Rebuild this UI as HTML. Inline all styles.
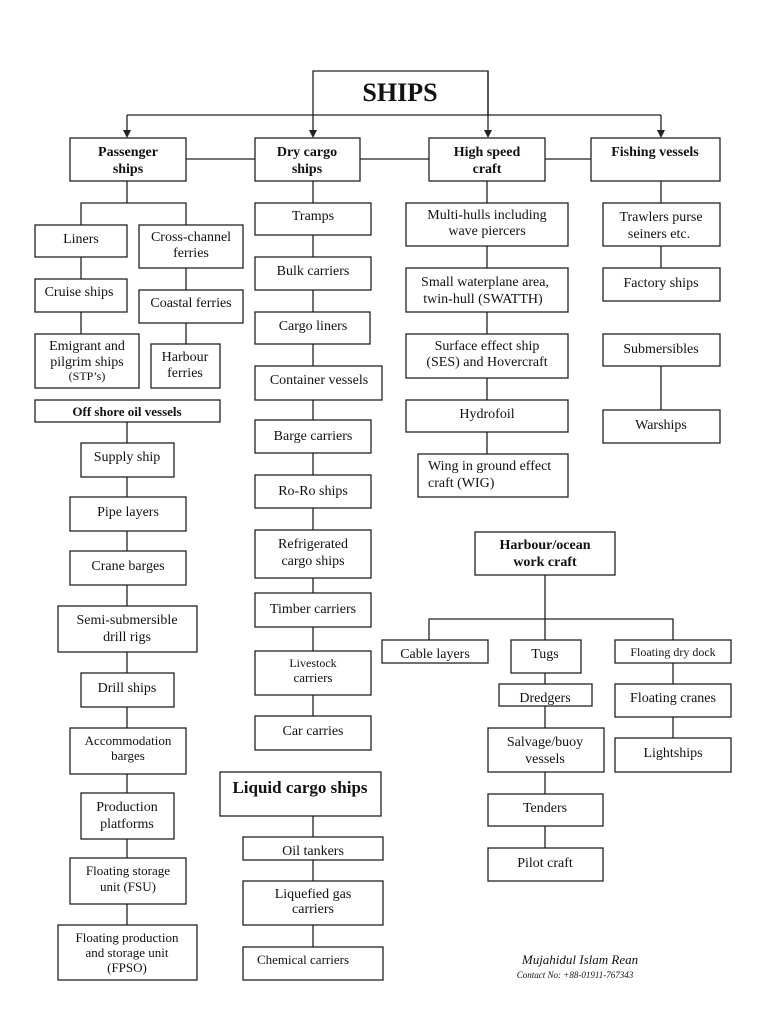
<!DOCTYPE html>
<html><head><meta charset="utf-8"><style>
html,body{margin:0;padding:0;background:#fff;}
svg{display:block;}
text{font-family:"Liberation Serif",serif;fill:#111;text-anchor:middle;}
.b{font-weight:bold;}
rect{fill:#fff;stroke:#222;stroke-width:1.3;}
line,polyline{stroke:#222;stroke-width:1.3;fill:none;}
</style></head><body>
<svg width="768" height="1024" viewBox="0 0 768 1024" xmlns="http://www.w3.org/2000/svg">
<!-- top connectors -->
<polyline points="313,115 313,71 488,71 488,115"/>
<line x1="127" y1="115" x2="661" y2="115"/>
<line x1="127" y1="115" x2="127" y2="132"/>
<line x1="313" y1="115" x2="313" y2="132"/>
<line x1="488" y1="71" x2="488" y2="132"/>
<line x1="661" y1="115" x2="661" y2="132"/>
<path d="M123,130 L131,130 L127,138 z M309,130 L317,130 L313,138 z M484,130 L492,130 L488,138 z M657,130 L665,130 L661,138 z" fill="#222"/>
<text x="400" y="101" class="b" font-size="26">SHIPS</text>
<line x1="186" y1="159" x2="591" y2="159"/>
<!-- passenger tree -->
<line x1="127" y1="181" x2="127" y2="203"/>
<polyline points="81,225 81,203 186,203 186,225"/>
<line x1="81" y1="257" x2="81" y2="279"/>
<line x1="81" y1="312" x2="81" y2="334"/>
<line x1="186" y1="268" x2="186" y2="344"/>
<line x1="127" y1="422" x2="127" y2="925"/>
<!-- columns -->
<line x1="313" y1="181" x2="313" y2="716"/>
<line x1="313" y1="815" x2="313" y2="947"/>
<line x1="487" y1="181" x2="487" y2="454"/>
<line x1="661" y1="181" x2="661" y2="268"/>
<line x1="661" y1="366" x2="661" y2="410"/>
<!-- harbour -->
<line x1="545" y1="575" x2="545" y2="848"/>
<polyline points="429,640 429,619 673,619 673,640"/>
<line x1="673" y1="663" x2="673" y2="738"/>

<g>
<rect x="70" y="138" width="116" height="43"/><text class="b" font-size="14" x="128" y="156">Passenger</text><text class="b" font-size="14" x="128" y="173">ships</text>
<rect x="255" y="138" width="105" height="43"/><text class="b" font-size="14" x="307" y="156">Dry cargo</text><text class="b" font-size="14" x="307" y="173">ships</text>
<rect x="429" y="138" width="116" height="43"/><text class="b" font-size="14" x="487" y="156">High speed</text><text class="b" font-size="14" x="487" y="173">craft</text>
<rect x="591" y="138" width="129" height="43"/><text class="b" font-size="14" x="655" y="156">Fishing vessels</text>

<rect x="35" y="225" width="92" height="32"/><text font-size="14" x="81" y="243">Liners</text>
<rect x="139" y="225" width="104" height="43"/><text font-size="14" x="191" y="241">Cross-channel</text><text font-size="14" x="191" y="257">ferries</text>
<rect x="35" y="279" width="92" height="33"/><text font-size="14" x="79" y="296">Cruise ships</text>
<rect x="139" y="290" width="104" height="33"/><text font-size="14" x="191" y="307">Coastal ferries</text>
<rect x="35" y="334" width="104" height="54"/><text font-size="14" x="87" y="350">Emigrant and</text><text font-size="14" x="87" y="366">pilgrim ships</text><text font-size="12" x="87" y="380">(STP’s)</text>
<rect x="151" y="344" width="69" height="44"/><text font-size="14" x="185" y="361">Harbour</text><text font-size="14" x="185" y="377">ferries</text>
<rect x="35" y="400" width="185" height="22"/><text class="b" font-size="13" x="127" y="416">Off shore oil vessels</text>

<rect x="81" y="443" width="93" height="34"/><text font-size="14" x="127" y="461">Supply ship</text>
<rect x="70" y="497" width="116" height="34"/><text font-size="14" x="128" y="516">Pipe layers</text>
<rect x="70" y="551" width="116" height="34"/><text font-size="14" x="128" y="570">Crane barges</text>
<rect x="58" y="606" width="139" height="46"/><text font-size="14" x="127" y="624">Semi-submersible</text><text font-size="14" x="127" y="641">drill rigs</text>
<rect x="81" y="673" width="93" height="34"/><text font-size="14" x="127" y="692">Drill ships</text>
<rect x="70" y="728" width="116" height="46"/><text font-size="13" x="128" y="745">Accommodation</text><text font-size="13" x="128" y="760">barges</text>
<rect x="81" y="793" width="93" height="46"/><text font-size="14" x="127" y="811">Production</text><text font-size="14" x="127" y="828">platforms</text>
<rect x="70" y="858" width="116" height="46"/><text font-size="13" x="128" y="875">Floating storage</text><text font-size="13" x="128" y="891">unit (FSU)</text>
<rect x="58" y="925" width="139" height="55"/><text font-size="13" x="127" y="942">Floating production</text><text font-size="13" x="127" y="957">and storage unit</text><text font-size="13" x="127" y="972">(FPSO)</text>

<rect x="255" y="203" width="116" height="32"/><text font-size="14" x="313" y="220">Tramps</text>
<rect x="255" y="257" width="116" height="33"/><text font-size="14" x="313" y="275">Bulk carriers</text>
<rect x="255" y="312" width="115" height="32"/><text font-size="14" x="313" y="330">Cargo liners</text>
<rect x="255" y="366" width="127" height="34"/><text font-size="14" x="319" y="384">Container vessels</text>
<rect x="255" y="420" width="116" height="33"/><text font-size="14" x="313" y="440">Barge carriers</text>
<rect x="255" y="475" width="116" height="33"/><text font-size="14" x="313" y="495">Ro-Ro ships</text>
<rect x="255" y="530" width="116" height="48"/><text font-size="14" x="313" y="548">Refrigerated</text><text font-size="14" x="313" y="565">cargo ships</text>
<rect x="255" y="593" width="116" height="34"/><text font-size="14" x="313" y="613">Timber carriers</text>
<rect x="255" y="651" width="116" height="44"/><text font-size="12" x="313" y="667">Livestock</text><text font-size="13" x="313" y="682">carriers</text>
<rect x="255" y="716" width="116" height="34"/><text font-size="14" x="313" y="735">Car carries</text>
<rect x="220" y="772" width="161" height="44"/><text class="b" font-size="17" x="300" y="793">Liquid cargo ships</text>
<rect x="243" y="837" width="140" height="23"/><text font-size="14" x="313" y="855">Oil tankers</text>
<rect x="243" y="881" width="140" height="44"/><text font-size="14" x="313" y="898">Liquefied gas</text><text font-size="14" x="313" y="913">carriers</text>
<rect x="243" y="947" width="140" height="33"/><text font-size="13" x="303" y="964">Chemical carriers</text>

<rect x="406" y="203" width="162" height="43"/><text font-size="14" x="487" y="219">Multi-hulls including</text><text font-size="14" x="487" y="235">wave piercers</text>
<rect x="406" y="268" width="162" height="44"/><text font-size="14" x="485" y="286">Small waterplane area,</text><text font-size="14" x="483" y="303">twin-hull (SWATTH)</text>
<rect x="406" y="334" width="162" height="44"/><text font-size="14" x="487" y="350">Surface effect ship</text><text font-size="14" x="487" y="366">(SES) and Hovercraft</text>
<rect x="406" y="400" width="162" height="32"/><text font-size="14" x="487" y="418">Hydrofoil</text>
<rect x="418" y="454" width="150" height="43"/><text font-size="14" x="428" y="470" style="text-anchor:start">Wing in ground effect</text><text font-size="14" x="428" y="487" style="text-anchor:start">craft (WIG)</text>

<rect x="603" y="203" width="117" height="43"/><text font-size="14" x="661" y="221">Trawlers purse</text><text font-size="14" x="659" y="238">seiners etc.</text>
<rect x="603" y="268" width="117" height="33"/><text font-size="14" x="661" y="287">Factory ships</text>
<rect x="603" y="334" width="117" height="32"/><text font-size="14" x="661" y="353">Submersibles</text>
<rect x="603" y="410" width="117" height="33"/><text font-size="14" x="661" y="429">Warships</text>

<rect x="475" y="532" width="140" height="43"/><text class="b" font-size="14" x="545" y="549">Harbour/ocean</text><text class="b" font-size="14" x="545" y="566">work craft</text>
<rect x="382" y="640" width="106" height="23"/><text font-size="14" x="435" y="658">Cable layers</text>
<rect x="511" y="640" width="70" height="33"/><text font-size="14" x="545" y="658">Tugs</text>
<rect x="615" y="640" width="116" height="23"/><text font-size="12" x="673" y="656">Floating dry dock</text>
<rect x="499" y="684" width="93" height="22"/><text font-size="14" x="545" y="702">Dredgers</text>
<rect x="615" y="684" width="116" height="33"/><text font-size="14" x="673" y="702">Floating cranes</text>
<rect x="488" y="728" width="116" height="44"/><text font-size="14" x="545" y="746">Salvage/buoy</text><text font-size="14" x="545" y="763">vessels</text>
<rect x="615" y="738" width="116" height="34"/><text font-size="14" x="673" y="757">Lightships</text>
<rect x="488" y="794" width="115" height="32"/><text font-size="14" x="545" y="812">Tenders</text>
<rect x="488" y="848" width="115" height="33"/><text font-size="14" x="545" y="867">Pilot craft</text>
</g>
<text x="580" y="964" font-size="13" font-style="italic">Mujahidul Islam Rean</text>
<text x="575" y="978" font-size="9" font-style="italic">Contact No:   +88-01911-767343</text>
</svg>
</body></html>
